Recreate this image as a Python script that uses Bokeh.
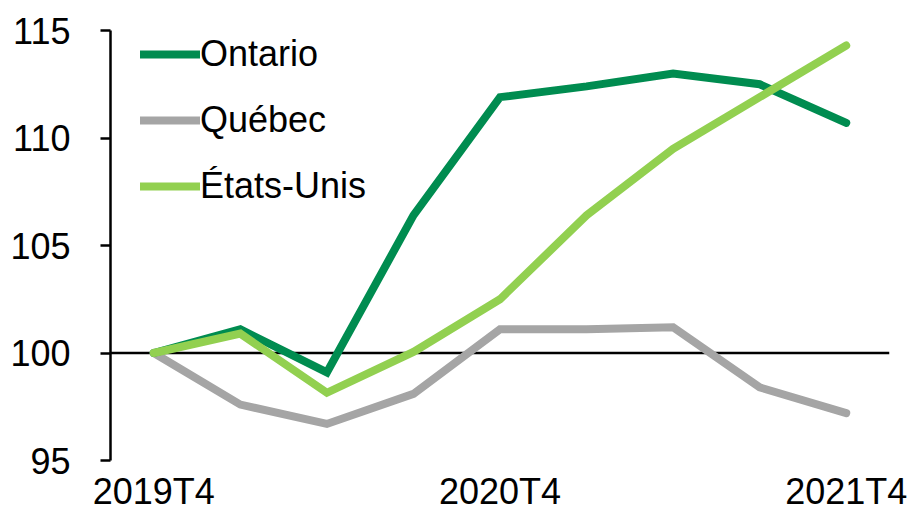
from bokeh.plotting import figure
from bokeh.models import FixedTicker, Span, Legend, LegendItem
from bokeh.embed import file_html
from bokeh.resources import INLINE

quarters = ["2019T4", "2020T1", "2020T2", "2020T3", "2020T4", "2021T1", "2021T2", "2021T3", "2021T4"]
ontario = [100, 101.1, 99.1, 106.4, 111.9, 112.4, 113.0, 112.5, 110.7]
quebec = [100, 97.6, 96.7, 98.1, 101.1, 101.1, 101.2, 98.4, 97.2]
usa = [100, 100.9, 98.15, 100.05, 102.5, 106.4, 109.5, 111.9, 114.3]
series_names = ["Ontario", "Québec", "États-Unis"]
y_ticks = [95, 100, 105, 110, 115]
x_tick_idx = [0, 4, 8]

FONT = "Liberation Sans"
FS = "36px"

x = list(range(len(quarters)))

p = figure(width=908, height=516, output_backend="svg", toolbar_location=None,
           x_range=(-0.5, len(quarters) - 0.5), y_range=(95, 115),
           min_border_left=110, min_border_top=30, min_border_right=19, min_border_bottom=56)
p.outline_line_color = None
p.grid.grid_line_color = None
p.background_fill_color = None
p.border_fill_color = "white"

p.add_layout(Span(location=100, dimension="width", line_color="black", line_width=2.5, level="underlay"))

r_q = p.line(x, quebec, line_color="#A5A5A5", line_width=8, line_cap="round", line_join="miter")
r_o = p.line(x, ontario, line_color="#008C50", line_width=8, line_cap="round", line_join="miter")
r_u = p.line(x, usa, line_color="#92D050", line_width=8, line_cap="round", line_join="miter")

yax = p.yaxis[0]
yax.ticker = FixedTicker(ticks=y_ticks)
yax.axis_line_width = 2.5
yax.axis_line_color = "black"
yax.major_tick_line_width = 2.5
yax.major_tick_out = 10
yax.major_tick_in = 0
yax.minor_tick_line_color = None
yax.major_label_text_font = FONT
yax.major_label_text_font_size = FS
yax.major_label_text_color = "black"
yax.major_label_standoff = 30

xax = p.xaxis[0]
xax.ticker = FixedTicker(ticks=x_tick_idx)
xax.major_label_overrides = {i: quarters[i] for i in x_tick_idx}
xax.axis_line_color = None
xax.major_tick_line_color = None
xax.minor_tick_line_color = None
xax.major_tick_out = 0
xax.major_tick_in = 0
xax.major_label_text_font = FONT
xax.major_label_text_font_size = FS
xax.major_label_text_color = "black"
xax.major_label_text_line_height = 0.8
xax.major_label_standoff = 10

legend = Legend(items=[LegendItem(label=series_names[0], renderers=[r_o]),
                       LegendItem(label=series_names[1], renderers=[r_q]),
                       LegendItem(label=series_names[2], renderers=[r_u])],
                location=(30, 252), padding=0, margin=0, spacing=22,
                glyph_width=60, glyph_height=44, label_height=44, label_standoff=0,
                label_text_font=FONT, label_text_font_size=FS, label_text_color="black",
                background_fill_alpha=0, border_line_color=None)
p.add_layout(legend)

open("out.html", "w").write(file_html(p, INLINE))
